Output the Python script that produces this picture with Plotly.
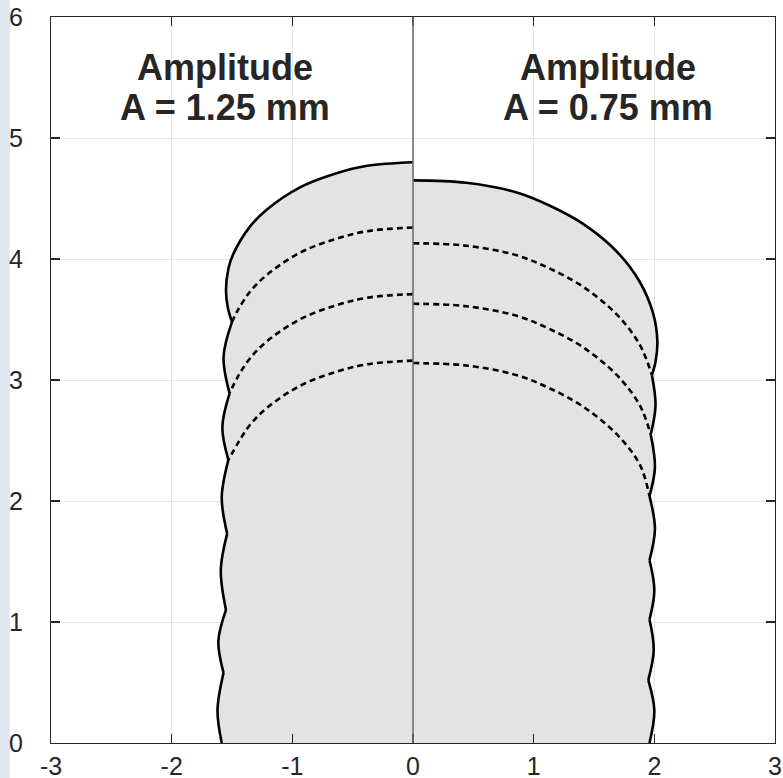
import plotly.graph_objects as go

# ---------------- data ----------------
x_ticks = [-3, -2, -1, 0, 1, 2, 3]
y_ticks = [0, 1, 2, 3, 4, 5, 6]

left_title = ["Amplitude", "A = 1.25 mm"]
right_title = ["Amplitude", "A = 0.75 mm"]
left_title_pos = [-1.56, 5.58, 5.25]   # x, y line1, y line2
right_title_pos = [1.62, 5.58, 5.25]

# Left wall (A = 1.25 mm): current top surface
left_top_x = [0, -0.38, -0.66, -0.94, -1.21, -1.35, -1.49, -1.53, -1.55, -1.535, -1.50]
left_top_y = [4.80, 4.77, 4.70, 4.59, 4.41, 4.27, 4.04, 3.92, 3.74, 3.60, 3.48]
# side scallops (cusps and bulges)
left_cusp_x = [-1.50, -1.52, -1.53, -1.54, -1.55, -1.57, -1.585]
left_cusp_y = [3.48, 2.89, 2.34, 1.73, 1.10, 0.58, 0.00]
left_bulge_x = [-1.57, -1.58, -1.585, -1.593, -1.613, -1.62]
left_bulge_y = [3.19, 2.61, 2.03, 1.43, 0.84, 0.27]
# earlier layer surfaces (dashed)
left_prev1_x = [0, -0.38, -0.66, -0.94, -1.21, -1.35, -1.45, -1.50]
left_prev1_y = [4.26, 4.23, 4.16, 4.05, 3.87, 3.73, 3.58, 3.48]
left_prev2_x = [0, -0.38, -0.66, -0.94, -1.21, -1.35, -1.45, -1.52]
left_prev2_y = [3.71, 3.68, 3.61, 3.50, 3.32, 3.18, 3.03, 2.89]
left_prev3_x = [0, -0.38, -0.66, -0.94, -1.21, -1.35, -1.45, -1.53]
left_prev3_y = [3.16, 3.13, 3.06, 2.95, 2.77, 2.63, 2.48, 2.34]

# Right wall (A = 0.75 mm)
right_top_x = [0, 0.44, 0.86, 1.135, 1.41, 1.69, 1.88, 1.99, 2.025, 2.01, 1.98]
right_top_y = [4.65, 4.63, 4.55, 4.44, 4.29, 4.06, 3.81, 3.55, 3.32, 3.15, 3.04]
right_cusp_x = [1.98, 1.97, 1.96, 1.96, 1.96, 1.95, 1.96]
right_cusp_y = [3.04, 2.55, 2.04, 1.51, 1.02, 0.52, 0.00]
right_bulge_x = [2.01, 2.005, 2.005, 2.00, 1.995, 2.00]
right_bulge_y = [2.79, 2.28, 1.77, 1.26, 0.77, 0.27]
right_prev1_x = [0, 0.44, 0.86, 1.135, 1.41, 1.69, 1.88, 1.98]
right_prev1_y = [4.13, 4.11, 4.03, 3.92, 3.77, 3.54, 3.29, 3.04]
right_prev2_x = [0, 0.44, 0.86, 1.135, 1.41, 1.69, 1.88, 1.97]
right_prev2_y = [3.63, 3.61, 3.53, 3.42, 3.27, 3.04, 2.79, 2.55]
right_prev3_x = [0, 0.44, 0.86, 1.135, 1.41, 1.69, 1.88, 1.96]
right_prev3_y = [3.14, 3.12, 3.04, 2.93, 2.78, 2.55, 2.30, 2.04]

# ---------------- styles ----------------
FONT = "Liberation Sans, Arial, Helvetica, sans-serif"
FILL = "#e3e3e3"
LINE_W = 2.6
DASH = "6px,4px"


def outline(top_x, top_y, cusp_x, cusp_y, bulge_x, bulge_y):
    xs, ys = list(top_x), list(top_y)
    for k in range(len(bulge_x)):
        xs += [None, cusp_x[k], bulge_x[k], cusp_x[k + 1]]
        ys += [None, cusp_y[k], bulge_y[k], cusp_y[k + 1]]
    return xs, ys


fig = go.Figure()

for side in [
    (left_top_x, left_top_y, left_cusp_x, left_cusp_y, left_bulge_x, left_bulge_y),
    (right_top_x, right_top_y, right_cusp_x, right_cusp_y, right_bulge_x, right_bulge_y),
]:
    xs, ys = outline(*side)
    fig.add_trace(go.Scatter(
        x=xs, y=ys, mode="lines", connectgaps=False,
        line=dict(color="black", width=LINE_W, shape="spline", smoothing=1),
        fill="tozerox", fillcolor=FILL, hoverinfo="skip", showlegend=False,
    ))

for px, py in [(left_prev1_x, left_prev1_y), (left_prev2_x, left_prev2_y),
               (left_prev3_x, left_prev3_y), (right_prev1_x, right_prev1_y),
               (right_prev2_x, right_prev2_y), (right_prev3_x, right_prev3_y)]:
    fig.add_trace(go.Scatter(
        x=px, y=py, mode="lines",
        line=dict(color="black", width=LINE_W, dash=DASH, shape="spline", smoothing=1),
        hoverinfo="skip", showlegend=False,
    ))

annotations = []
for pos, title in [(left_title_pos, left_title), (right_title_pos, right_title)]:
    for line_txt, yy in zip(title, pos[1:]):
        annotations.append(dict(
            x=pos[0], y=yy, xref="x", yref="y", text="<b>%s</b>" % line_txt,
            showarrow=False, xanchor="center", yanchor="middle",
            font=dict(family=FONT, size=36, color="#262626"),
        ))

W, H = 783, 778
ML, MR, MT, MB = 51, 8, 17, 35
pw, ph = W - ML - MR, H - MT - MB

axis_common = dict(
    showline=True, linecolor="#262626", linewidth=1.2, mirror="ticks",
    ticks="inside", ticklen=9, tickwidth=1.2, tickcolor="#262626",
    showgrid=True, gridcolor="#e6e6e6", gridwidth=1, zeroline=False,
    tickfont=dict(family=FONT, size=25, color="#262626"),
    automargin=False,
)

fig.update_layout(
    width=W, height=H,
    margin=dict(l=ML, r=MR, t=MT, b=MB, pad=0, autoexpand=False),
    paper_bgcolor="white", plot_bgcolor="white",
    xaxis=dict(range=[-3, 3], tickvals=x_ticks, ticktext=[str(v) for v in x_ticks],
               ticklabelstandoff=1, **axis_common),
    yaxis=dict(range=[0, 6], tickvals=y_ticks, ticktext=[str(v) for v in y_ticks],
               ticklabelstandoff=22, **axis_common),
    annotations=annotations,
    shapes=[
        dict(type="line", xref="x", yref="paper", x0=0, x1=0, y0=0, y1=1,
             line=dict(color="#707070", width=1.6), layer="above"),
        dict(type="rect", xref="paper", yref="paper",
             x0=-ML / pw, x1=-(ML - 10) / pw, y0=-MB / ph, y1=1 + MT / ph,
             fillcolor="#e1e7f0", line=dict(width=0), layer="below"),
    ],
    showlegend=False,
)

fig.write_html(
    "out.html",
    config={"displayModeBar": False, "staticPlot": True},
    post_script="document.body.style.margin='0';document.body.style.overflow='hidden';",
)
